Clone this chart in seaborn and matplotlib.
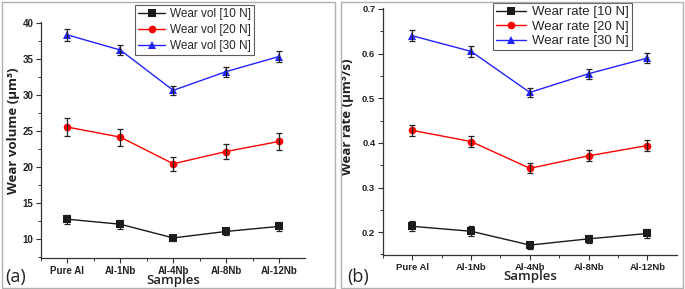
import numpy as np
import pandas as pd
import matplotlib
matplotlib.use("Agg")
import matplotlib.pyplot as plt
from matplotlib.patches import Rectangle
from matplotlib.ticker import MultipleLocator, FixedLocator, FormatStrFormatter
import seaborn as sns

samples = ["Pure Al", "Al-1Nb", "Al-4Nb", "Al-8Nb", "Al-12Nb"]
loads = ["10 N", "20 N", "30 N"]

vol_10 = [12.8, 12.1, 10.2, 11.1, 11.8]
vol_20 = [25.6, 24.2, 20.5, 22.2, 23.6]
vol_30 = [38.4, 36.3, 30.7, 33.3, 35.4]
vol_err_10 = [0.6, 0.6, 0.4, 0.5, 0.6]
vol_err_20 = [1.3, 1.2, 1.0, 1.1, 1.2]
vol_err_30 = [0.8, 0.7, 0.6, 0.7, 0.7]

rate_10 = [0.213, 0.202, 0.171, 0.185, 0.197]
rate_20 = [0.428, 0.403, 0.343, 0.371, 0.394]
rate_30 = [0.640, 0.605, 0.513, 0.555, 0.590]
rate_err_10 = [0.011, 0.011, 0.008, 0.009, 0.010]
rate_err_20 = [0.013, 0.013, 0.011, 0.012, 0.012]
rate_err_30 = [0.012, 0.012, 0.010, 0.011, 0.012]

sns.set_theme(style="ticks")
plt.rcParams['font.family'] = ['Liberation Sans', 'DejaVu Sans']

colors = ["#1a1a1a", "#ff0000", "#2222ff"]
markers = ["s", "o", "^"]


def build(vals, errs, prefix):
    rows = []
    for load, v, e in zip(loads, vals, errs):
        for s, vv, ee in zip(samples, v, e):
            rows.append({"Samples": s, "value": vv, "err": ee,
                         "series": f"{prefix} [{load}]"})
    return pd.DataFrame(rows)


df_vol = build([vol_10, vol_20, vol_30], [vol_err_10, vol_err_20, vol_err_30], "Wear vol")
df_rate = build([rate_10, rate_20, rate_30], [rate_err_10, rate_err_20, rate_err_30], "Wear rate")

fig = plt.figure(figsize=(6.85, 2.89), dpi=100)
ax1 = fig.add_axes([0.0599, 0.107, 0.386, 0.817])
ax2 = fig.add_axes([0.559, 0.118, 0.429, 0.854])

# panel frames
fig.add_artist(Rectangle((0.003, 0.004), 0.486, 0.99, transform=fig.transFigure,
                         fill=False, edgecolor="#b0b0b0", lw=1.0))
fig.add_artist(Rectangle((0.498, 0.004), 0.499, 0.99, transform=fig.transFigure,
                         fill=False, edgecolor="#b0b0b0", lw=1.0))


def draw(ax, df, ylabel, ylim, major, minor, fmt, legend_anchor, leg_fs,
         leg_sp, tick_fs, label_xy):
    series = list(df["series"].unique())
    sns.lineplot(data=df, x="Samples", y="value", hue="series", style="series",
                 hue_order=series, style_order=series, palette=colors,
                 markers=markers, dashes=False, markersize=5.5, linewidth=1.0,
                 markeredgewidth=0, ax=ax, sort=False)
    for s, c in zip(series, colors):
        d = df[df["series"] == s]
        ax.errorbar(d["Samples"], d["value"], yerr=d["err"], fmt="none",
                    ecolor="#222222", elinewidth=0.9, capsize=2.2, capthick=0.9,
                    zorder=3)
    ax.set_xlim(-0.5, 4.5)
    ax.set_ylim(*ylim)
    ax.yaxis.set_major_locator(MultipleLocator(major))
    ax.yaxis.set_minor_locator(MultipleLocator(minor))
    ax.xaxis.set_minor_locator(FixedLocator([-0.5, 0.5, 1.5, 2.5, 3.5]))
    ax.yaxis.set_major_formatter(fmt)
    for sp in ["top", "right"]:
        ax.spines[sp].set_visible(False)
    for sp in ["left", "bottom"]:
        ax.spines[sp].set_color("#333333")
        ax.spines[sp].set_linewidth(0.9)
    ax.tick_params(which="major", direction="out", length=3.5, width=0.8,
                   color="#333333", labelsize=tick_fs, pad=2)
    ax.tick_params(which="minor", direction="out", length=2, width=0.7,
                   color="#333333")
    for lab in ax.get_xticklabels() + ax.get_yticklabels():
        lab.set_fontweight("bold")
        lab.set_color("#222222")
    ax.set_xlabel("Samples", fontsize=9.5, family="Open Sans",
                  fontweight="semibold", labelpad=-1, color="#222222")
    ax.set_ylabel(ylabel, fontsize=9.5, family="Open Sans",
                  fontweight="bold", color="#222222")
    ax.yaxis.set_label_coords(*label_xy)
    leg = ax.legend(loc="upper left", bbox_to_anchor=legend_anchor,
                    fontsize=leg_fs, frameon=True, fancybox=False, handlelength=2.3,
                    borderpad=0.25, labelspacing=leg_sp, handletextpad=0.4,
                    borderaxespad=0)
    leg.get_frame().set_edgecolor("#333333")
    leg.get_frame().set_linewidth(0.8)


draw(ax1, df_vol, "Wear volume (\u00b5m\u00b3)", (7.4, 40.2), 5, 2.5,
     FormatStrFormatter("%d"), (0.356, 1.07), 8.5, 0.33, 7, (-0.08, 0.54))
draw(ax2, df_rate, "Wear rate (\u00b5m\u00b3/s)", (0.149, 0.702), 0.1, 0.05,
     FormatStrFormatter("%.1f"), (0.374, 1.022), 9.5, 0.17, 6.8, (-0.1, 0.56))

fig.text(0.008, 0.025, "(a)", fontsize=13, family="Open Sans", color="#222222")
fig.text(0.507, 0.025, "(b)", fontsize=13, family="Open Sans", color="#222222")

fig.savefig("out.png", dpi=100)
